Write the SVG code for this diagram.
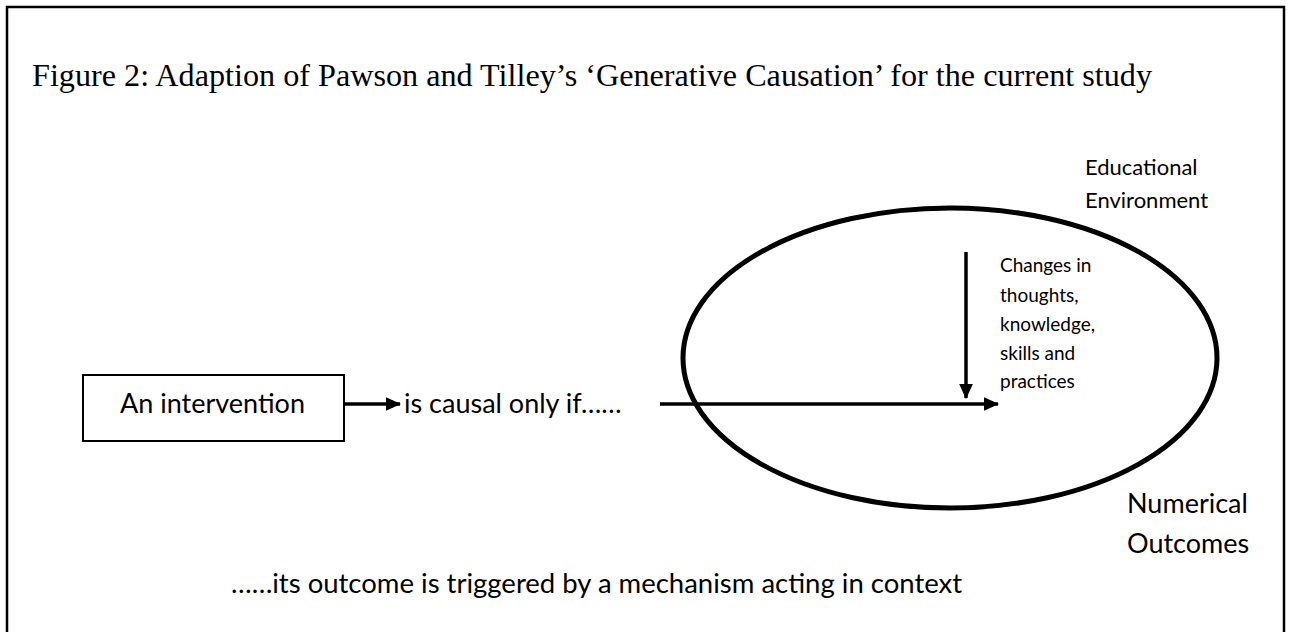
<svg xmlns="http://www.w3.org/2000/svg" width="1291" height="632" viewBox="0 0 1291 632">
  <defs>
    <style>
      .lbl { font-family: "Lato", "Open Sans", "Liberation Sans", sans-serif; fill: #000; }
      .title { font-family: "Liberation Serif", "Times New Roman", serif; font-size: 32px; fill: #000; }
      .conn { stroke: #000; stroke-width: 3.5; fill: none; }
    </style>
    <marker id="ah" markerWidth="4.4" markerHeight="4" refX="4.1" refY="2" orient="auto" markerUnits="strokeWidth">
      <path d="M0,0 L4.4,2 L0,4 Z" fill="#000"/>
    </marker>
  </defs>
  <rect x="0" y="0" width="1291" height="632" fill="#fff"/>
  <rect id="frame" x="7" y="7" width="1277" height="660" fill="none" stroke="#000" stroke-width="2.5"/>
  <text id="title" class="title" x="32" y="86" textLength="1120" lengthAdjust="spacingAndGlyphs">Figure 2: Adaption of Pawson and Tilley’s ‘Generative Causation’ for the current study</text>

  <g id="context">
    <ellipse cx="950" cy="358" rx="267" ry="150" fill="none" stroke="#000" stroke-width="5"/>
  </g>

  <g id="intervention">
    <rect x="83" y="375" width="261" height="66" fill="#fff" stroke="#000" stroke-width="2"/>
    <text class="lbl" x="120" y="413" font-size="27">An intervention</text>
  </g>

  <g id="causal-label">
    <text class="lbl" x="404" y="413" font-size="27">is causal only if……</text>
  </g>

  <g id="mechanism-label">
    <text class="lbl" font-size="19">
      <tspan x="1000" y="272">Changes in</tspan>
      <tspan x="1000" y="302">thoughts,</tspan>
      <tspan x="1000" y="331">knowledge,</tspan>
      <tspan x="1000" y="360">skills and</tspan>
      <tspan x="1000" y="388">practices</tspan>
    </text>
  </g>

  <g id="environment-label">
    <text class="lbl" font-size="22">
      <tspan x="1085" y="175">Educational</tspan>
      <tspan x="1085" y="208">Environment</tspan>
    </text>
  </g>

  <g id="outcomes-label">
    <text class="lbl" font-size="27">
      <tspan x="1127" y="513">Numerical</tspan>
      <tspan x="1127" y="553">Outcomes</tspan>
    </text>
  </g>

  <g id="bottom-label">
    <text class="lbl" x="231" y="593" font-size="27.5">……its outcome is triggered by a mechanism acting in context</text>
  </g>

  <g id="connectors">
    <line class="conn" x1="344" y1="404" x2="400" y2="404" marker-end="url(#ah)"/>
    <line class="conn" x1="660" y1="404" x2="998" y2="404" marker-end="url(#ah)"/>
    <line class="conn" x1="966" y1="252" x2="966" y2="398" marker-end="url(#ah)"/>
  </g>
</svg>
